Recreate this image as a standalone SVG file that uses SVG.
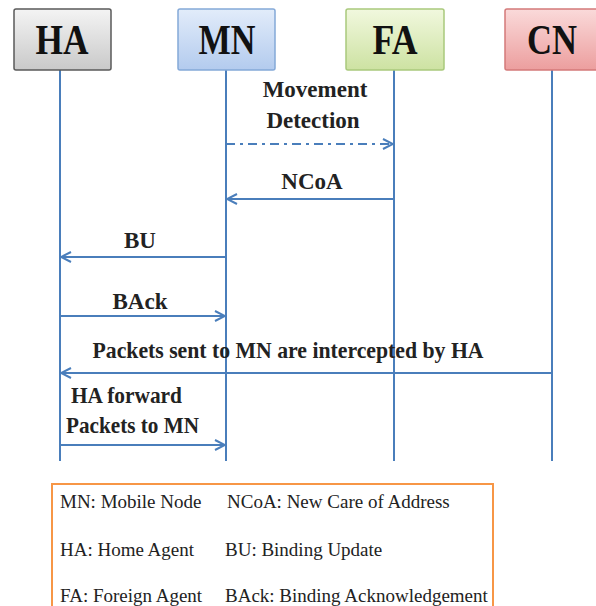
<svg xmlns="http://www.w3.org/2000/svg" width="596" height="606" viewBox="0 0 596 606">
  <style>
    .title { font-family: "Liberation Serif", "Times New Roman", serif; font-weight: bold; font-size: 42px; fill: #111; text-anchor: middle; }
    .lbl { font-family: "Liberation Serif", "Times New Roman", serif; font-weight: bold; font-size: 23px; fill: #222; text-anchor: middle; }
    .lbl.left { text-anchor: start; }
    .leg { font-family: "Liberation Serif", "Times New Roman", serif; font-size: 19px; fill: #222; }
    .life { stroke: #4a7ebb; stroke-width: 2; fill: none; }
    .msg { stroke: #4a7ebb; stroke-width: 2; fill: none; marker-end: url(#arrow); }
    .dashdot { stroke-dasharray: 9 5 3 5; }
  </style>
  <defs>
    <marker id="arrow" viewBox="0 0 12 12" refX="11" refY="6" markerWidth="12" markerHeight="12" markerUnits="userSpaceOnUse" orient="auto">
      <path d="M1,1 L11,6 L1,11" fill="none" stroke="#4a7ebb" stroke-width="2"/>
    </marker>
    <linearGradient id="gHA" x1="0" y1="0" x2="0" y2="1">
      <stop offset="0" stop-color="#f4f4f4"/>
      <stop offset="1" stop-color="#c9c9c9"/>
    </linearGradient>
    <linearGradient id="gMN" x1="0" y1="0" x2="0" y2="1">
      <stop offset="0" stop-color="#e2ecfa"/>
      <stop offset="1" stop-color="#b3cbee"/>
    </linearGradient>
    <linearGradient id="gFA" x1="0" y1="0" x2="0" y2="1">
      <stop offset="0" stop-color="#f1f8de"/>
      <stop offset="1" stop-color="#cde2a2"/>
    </linearGradient>
    <linearGradient id="gCN" x1="0" y1="0" x2="0" y2="1">
      <stop offset="0" stop-color="#fadada"/>
      <stop offset="1" stop-color="#ec9e9e"/>
    </linearGradient>
  </defs>

  <rect width="596" height="606" fill="#ffffff"/>

  <!-- lifelines -->
  <g id="lifelines">
    <line class="life" x1="60" y1="70" x2="60" y2="461"/>
    <line class="life" x1="226" y1="70" x2="226" y2="461"/>
    <line class="life" x1="394" y1="70" x2="394" y2="461"/>
    <line class="life" x1="552" y1="70" x2="552" y2="461"/>
  </g>

  <!-- entities -->
  <g id="HA">
    <rect x="14" y="9" width="97" height="61" rx="2" fill="url(#gHA)" stroke="#5a5a5a" stroke-width="1.5"/>
    <text class="title" x="62" y="54" textLength="53" lengthAdjust="spacingAndGlyphs">HA</text>
  </g>
  <g id="MN">
    <rect x="178" y="9" width="97" height="61" rx="2" fill="url(#gMN)" stroke="#84a9d8" stroke-width="1.5"/>
    <text class="title" x="227" y="54" textLength="57" lengthAdjust="spacingAndGlyphs">MN</text>
  </g>
  <g id="FA">
    <rect x="346" y="9" width="98" height="61" rx="2" fill="url(#gFA)" stroke="#a9c97c" stroke-width="1.5"/>
    <text class="title" x="395" y="54" textLength="45" lengthAdjust="spacingAndGlyphs">FA</text>
  </g>
  <g id="CN">
    <rect x="505" y="9" width="100" height="61" rx="2" fill="url(#gCN)" stroke="#d37a7a" stroke-width="1.5"/>
    <text class="title" x="552" y="54" textLength="50" lengthAdjust="spacingAndGlyphs">CN</text>
  </g>

  <!-- messages -->
  <g id="connectors">
    <line class="msg dashdot" x1="226" y1="144" x2="393" y2="144"/>
    <line class="msg" x1="394" y1="199" x2="227" y2="199"/>
    <line class="msg" x1="226" y1="257" x2="61" y2="257"/>
    <line class="msg" x1="60" y1="316" x2="225" y2="316"/>
    <line class="msg" x1="552" y1="373" x2="61" y2="373"/>
    <line class="msg" x1="60" y1="445" x2="225" y2="445"/>
  </g>

  <!-- message labels -->
  <g id="labels">
    <text class="lbl" x="315" y="97">Movement</text>
    <text class="lbl" x="313" y="128">Detection</text>
    <text class="lbl" x="312" y="189">NCoA</text>
    <text class="lbl" x="140" y="248">BU</text>
    <text class="lbl" x="140" y="309">BAck</text>
    <text class="lbl" x="288" y="358" textLength="391" lengthAdjust="spacingAndGlyphs">Packets sent to MN are intercepted by HA</text>
    <text class="lbl left" x="71" y="403" textLength="111" lengthAdjust="spacingAndGlyphs">HA forward</text>
    <text class="lbl left" x="66" y="433" textLength="133" lengthAdjust="spacingAndGlyphs">Packets to MN</text>
  </g>

  <!-- legend -->
  <g id="legend">
    <rect x="52" y="484" width="441" height="130" fill="#ffffff" stroke="#f79646" stroke-width="2"/>
    <text class="leg" x="60" y="508">MN: Mobile Node</text>
    <text class="leg" x="227" y="508">NCoA: New Care of Address</text>
    <text class="leg" x="60" y="556">HA: Home Agent</text>
    <text class="leg" x="225" y="556">BU: Binding Update</text>
    <text class="leg" x="60" y="602">FA: Foreign Agent</text>
    <text class="leg" x="225" y="602">BAck: Binding Acknowledgement</text>
  </g>
</svg>
